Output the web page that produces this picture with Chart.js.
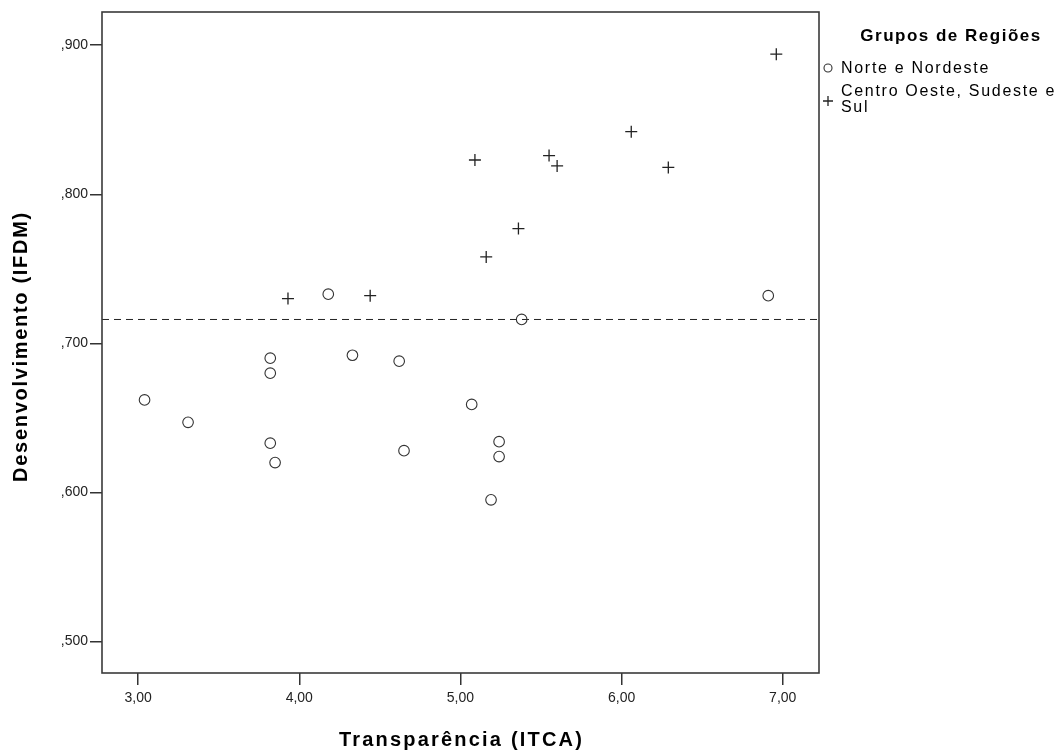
<!DOCTYPE html>
<html>
<head>
<meta charset="utf-8">
<script src="https://cdn.jsdelivr.net/npm/chart.js@4.4.1/dist/chart.umd.min.js"></script>
<style>
html,body{margin:0;padding:0;background:#fff;}
#wrap{width:1064px;height:754px;position:relative;}
canvas{display:block;}
</style>
</head>
<body>
<div id="wrap"><canvas id="c" width="1064" height="754"></canvas></div>
<script>
// ---- data ----
const groupNames = ['Norte e Nordeste', 'Centro Oeste, Sudeste e Sul'];
const legendLines = [['Norte e Nordeste'], ['Centro Oeste, Sudeste e', 'Sul']];
const nneX = [3.04, 3.31, 3.82, 3.82, 3.82, 3.85, 4.18, 4.33, 4.62, 4.65, 5.07, 5.24, 5.24, 5.19, 5.38, 6.91];
const nneY = [0.662, 0.647, 0.690, 0.680, 0.633, 0.620, 0.733, 0.692, 0.688, 0.628, 0.659, 0.634, 0.624, 0.595, 0.716, 0.732];
const cosX = [3.93, 4.44, 5.09, 5.16, 5.36, 5.55, 5.60, 6.06, 6.29, 6.96];
const cosY = [0.730, 0.732, 0.823, 0.758, 0.777, 0.826, 0.819, 0.842, 0.818, 0.894];
const meanValue = 0.716;
const xTicks = [3, 4, 5, 6, 7];
const yTicks = [0.5, 0.6, 0.7, 0.8, 0.9];
const xRange = [2.776, 7.225];
const yRange = [0.4788, 0.9223];
const xTitle = 'Transparência (ITCA)';
const yTitle = 'Desenvolvimento (IFDM)';
const legendTitle = 'Grupos de Regiões';

const FONT = "'Liberation Sans', Arial, sans-serif";

const toPts = (xs, ys) => xs.map((x, i) => ({x: x, y: ys[i]}));

const decorPlugin = {
  id: 'decor',
  beforeDraw(chart) {
    chart.ctx.letterSpacing = '0px';
  },
  afterDraw(chart) {
    const ctx = chart.ctx;
    const a = chart.chartArea;
    ctx.save();
    // frame
    ctx.strokeStyle = '#3a3a3a';
    ctx.lineWidth = 1.6;
    ctx.strokeRect(a.left, a.top, a.right - a.left, a.bottom - a.top);

    ctx.fillStyle = '#000';
    // x title
    ctx.letterSpacing = '2.2px';
    ctx.font = 'bold 20px ' + FONT;
    ctx.textAlign = 'center';
    ctx.textBaseline = 'middle';
    ctx.fillText(xTitle, (a.left + a.right) / 2 + 1, 740);
    // y title
    ctx.letterSpacing = '1.7px';
    ctx.save();
    ctx.translate(21, (a.top + a.bottom) / 2 + 4);
    ctx.rotate(-Math.PI / 2);
    ctx.fillText(yTitle, 0, 0);
    ctx.restore();

    // legend
    ctx.letterSpacing = '1.5px';
    ctx.font = 'bold 17px ' + FONT;
    ctx.textAlign = 'center';
    ctx.fillText(legendTitle, 951, 36);

    ctx.font = '16px ' + FONT;
    ctx.textAlign = 'left';
    ctx.letterSpacing = '1.7px';
    const ds = chart.data.datasets;
    const rows = [[69], [92, 108]];
    const markerY = [68, 101];
    for (let i = 0; i < 2; i++) {
      ctx.strokeStyle = ds[i].pointBorderColor;
      ctx.lineWidth = ds[i].pointBorderWidth;
      ctx.beginPath();
      if (i === 0) {
        ctx.arc(828, markerY[i], 4, 0, Math.PI * 2);
      } else {
        ctx.moveTo(823, markerY[i]); ctx.lineTo(833, markerY[i]);
        ctx.moveTo(828, markerY[i] - 5); ctx.lineTo(828, markerY[i] + 5);
      }
      ctx.stroke();
      legendLines[i].forEach((t, j) => ctx.fillText(t, 841, rows[i][j]));
    }
    ctx.restore();
    ctx.letterSpacing = '0px';
  }
};

new Chart(document.getElementById('c'), {
  type: 'scatter',
  data: {
    datasets: [
      {
        label: groupNames[0],
        data: toPts(nneX, nneY),
        pointStyle: 'circle',
        pointRadius: 5.3,
        pointHoverRadius: 5.3,
        pointBorderColor: '#333',
        pointBackgroundColor: 'rgba(0,0,0,0)',
        pointBorderWidth: 1.1
      },
      {
        label: groupNames[1],
        data: toPts(cosX, cosY),
        pointStyle: 'cross',
        pointRadius: 6,
        pointHoverRadius: 6,
        pointBorderColor: '#222',
        pointBorderWidth: 1.3
      },
      {
        type: 'line',
        label: 'ref',
        data: [{x: xRange[0], y: meanValue}, {x: xRange[1], y: meanValue}],
        showLine: true,
        borderColor: '#222',
        borderWidth: 1,
        borderDash: [7, 5],
        pointRadius: 0,
        fill: false
      }
    ]
  },
  options: {
    responsive: false,
    animation: false,
    devicePixelRatio: 1,
    events: [],
    layout: {padding: {top: 12, right: 245, left: 0, bottom: 0}},
    plugins: {legend: {display: false}, tooltip: {enabled: false}},
    scales: {
      x: {
        type: 'linear',
        min: xRange[0],
        max: xRange[1],
        afterFit(s) { s.height = 81; },
        afterBuildTicks(s) { s.ticks = xTicks.map(v => ({value: v})); },
        grid: {drawOnChartArea: false, drawTicks: true, tickLength: 12, color: '#333', lineWidth: 1.5},
        border: {display: false},
        ticks: {
          padding: 5,
          color: '#222',
          maxRotation: 0,
          font: {family: FONT, size: 14},
          callback: v => v.toFixed(2).replace('.', ',')
        }
      },
      y: {
        type: 'linear',
        min: yRange[0],
        max: yRange[1],
        afterFit(s) { s.width = 102; },
        afterBuildTicks(s) { s.ticks = yTicks.map(v => ({value: v})); },
        grid: {drawOnChartArea: false, drawTicks: true, tickLength: 12, color: '#333', lineWidth: 1.5},
        border: {display: false},
        ticks: {
          padding: 2,
          color: '#222',
          font: {family: FONT, size: 14},
          callback: v => ',' + v.toFixed(3).split('.')[1]
        }
      }
    }
  },
  plugins: [decorPlugin]
});
</script>
</body>
</html>
